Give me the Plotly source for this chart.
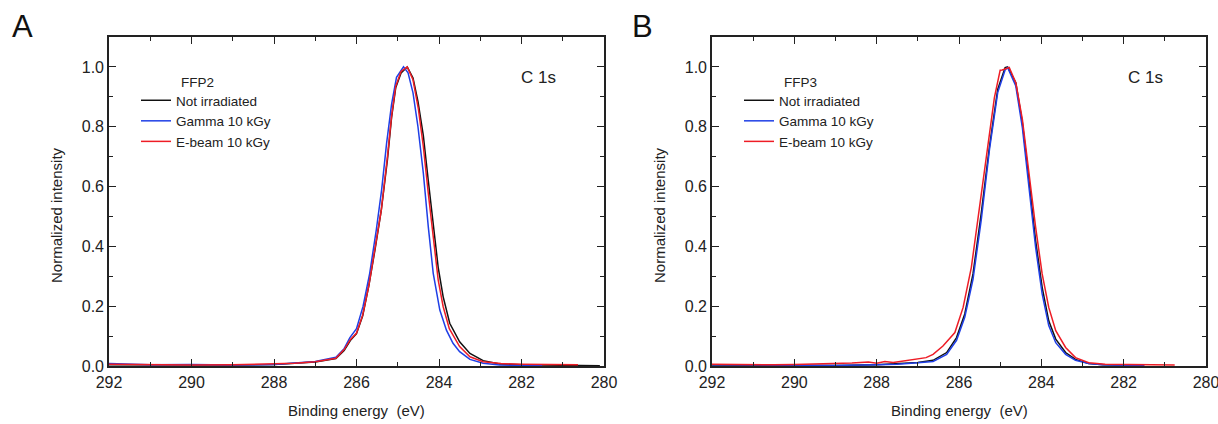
import plotly.graph_objects as go

# ---------------- Data ----------------
# Panel A : FFP2
a_black_e = [292.0, 291.0, 290.0, 289.0, 288.0, 287.5, 287.0, 286.5, 286.3, 286.15, 286.0, 285.85,
             285.7, 285.55, 285.4, 285.25, 285.15, 285.05, 284.92, 284.77, 284.63, 284.51, 284.38,
             284.26, 284.14, 284.02, 283.9, 283.74, 283.5, 283.25, 282.93, 282.53, 282.0, 281.5,
             281.0, 280.5, 280.1]
a_black_i = [0.004, 0.003, 0.002, 0.003, 0.005, 0.008, 0.013, 0.025, 0.052, 0.085, 0.108, 0.168,
             0.27, 0.39, 0.52, 0.69, 0.83, 0.93, 0.98, 1.0, 0.963, 0.885, 0.77, 0.62, 0.466, 0.33,
             0.232, 0.143, 0.081, 0.042, 0.018, 0.007, 0.004, 0.003, 0.002, 0.002, 0.001]

a_blue_e = [292.0, 291.0, 290.0, 289.0, 288.0, 287.5, 287.0, 286.5, 286.3, 286.16, 286.0, 285.84,
            285.68, 285.52, 285.39, 285.27, 285.15, 285.03, 284.86, 284.75, 284.63, 284.51, 284.38,
            284.26, 284.14, 283.98, 283.82, 283.66, 283.5, 283.25, 282.93, 282.53, 282.0, 281.5]
a_blue_i = [0.008, 0.004, 0.005, 0.003, 0.005, 0.009, 0.015, 0.029, 0.058, 0.095, 0.125, 0.2,
            0.31, 0.455, 0.59, 0.745, 0.875, 0.965, 1.0, 0.98, 0.913, 0.80, 0.645, 0.466, 0.31,
            0.187, 0.12, 0.076, 0.048, 0.022, 0.009, 0.003, 0.002, 0.002]

a_red_e = [292.0, 291.0, 290.0, 289.0, 288.0, 287.5, 287.0, 286.5, 286.3, 286.15, 286.0, 285.85,
           285.7, 285.55, 285.4, 285.25, 285.15, 285.05, 284.92, 284.77, 284.63, 284.5, 284.38,
           284.26, 284.14, 284.02, 283.9, 283.75, 283.5, 283.25, 282.93, 282.5, 282.0, 281.5,
           281.0, 280.63]
a_red_i = [0.006, 0.004, 0.003, 0.004, 0.006, 0.009, 0.014, 0.026, 0.055, 0.088, 0.11, 0.17,
           0.27, 0.39, 0.52, 0.70, 0.835, 0.935, 0.985, 1.0, 0.957, 0.86, 0.734, 0.578, 0.422,
           0.288, 0.199, 0.125, 0.065, 0.031, 0.0145, 0.008, 0.006, 0.005, 0.005, 0.004]

# Panel B : FFP3
b_black_e = [292.0, 291.0, 290.0, 289.0, 288.0, 287.5, 287.0, 286.63, 286.3, 286.06, 285.86, 285.66,
             285.46, 285.26, 285.06, 284.88, 284.82, 284.62, 284.46, 284.3, 284.14, 283.98, 283.82,
             283.65, 283.41, 283.17, 282.85, 282.5, 282.0, 281.5]
b_black_i = [0.003, 0.002, 0.002, 0.002, 0.004, 0.007, 0.012, 0.019, 0.045, 0.095, 0.174, 0.308,
             0.51, 0.734, 0.925, 0.998, 1.0, 0.947, 0.813, 0.622, 0.42, 0.263, 0.151, 0.09, 0.045,
             0.022, 0.008, 0.004, 0.002, 0.002]

b_blue_e = [292.0, 291.0, 290.0, 289.0, 288.0, 287.5, 287.0, 286.63, 286.3, 286.06, 285.86, 285.66,
            285.46, 285.26, 285.06, 284.88, 284.82, 284.62, 284.46, 284.3, 284.14, 283.98, 283.82,
            283.65, 283.41, 283.17, 282.85, 282.5, 282.0, 281.5]
b_blue_i = [0.004, 0.003, 0.002, 0.002, 0.004, 0.006, 0.011, 0.015, 0.039, 0.086, 0.163, 0.29,
            0.488, 0.723, 0.914, 0.99, 0.998, 0.936, 0.796, 0.6, 0.398, 0.241, 0.135, 0.078, 0.039,
            0.019, 0.008, 0.004, 0.002, 0.001]

b_red_e = [292.0, 291.5, 291.0, 290.5, 290.0, 289.5, 289.0, 288.6, 288.2, 288.0, 287.8, 287.6,
           287.43, 287.2, 287.03, 286.8, 286.63, 286.39, 286.1, 285.9, 285.7, 285.5, 285.26,
           285.14, 285.0, 284.95, 284.78, 284.62, 284.46, 284.3, 284.14, 283.98, 283.82, 283.65,
           283.41, 283.17, 282.85, 282.45, 282.0, 281.5, 281.0, 280.76]
b_red_i = [0.006, 0.005, 0.005, 0.004, 0.005, 0.006, 0.008, 0.01, 0.013, 0.009, 0.015, 0.012,
           0.015, 0.019, 0.022, 0.028, 0.039, 0.067, 0.112, 0.196, 0.33, 0.533, 0.79, 0.897,
           0.989, 0.99, 0.998, 0.947, 0.824, 0.645, 0.465, 0.308, 0.196, 0.118, 0.062, 0.028,
           0.011, 0.006, 0.005, 0.004, 0.003, 0.003]

series_names = ["Not irradiated", "Gamma 10 kGy", "E-beam 10 kGy"]
panel_titles = ["FFP2", "FFP3"]
panel_letters = ["A", "B"]
peak_label = "C 1s"
x_title = "Binding energy  (eV)"
y_title = "Normalized intensity"

colors = ["#111111", "#1f3fe6", "#ee1c25"]
W, H = 1218, 424

panels = [
    [(a_black_e, a_black_i), (a_blue_e, a_blue_i), (a_red_e, a_red_i)],
    [(b_black_e, b_black_i), (b_blue_e, b_blue_i), (b_red_e, b_red_i)],
]

fig = go.Figure()
for p, data in enumerate(panels):
    xa = "x" if p == 0 else "x2"
    ya = "y" if p == 0 else "y2"
    lg = "legend" if p == 0 else "legend2"
    for s, (e, i) in enumerate(data):
        fig.add_trace(go.Scatter(x=e, y=i, mode="lines", name=series_names[s],
                                 line=dict(color=colors[s], width=1.5),
                                 xaxis=xa, yaxis=ya, legend=lg))

# pixel helpers
def px(xp):
    return xp / W

def py(yp):
    return (H - yp) / H

plot_left = [109, 712]
plot_right = [604, 1206]
plot_top, plot_bottom = 37, 366

font = "Liberation Sans, Arial, sans-serif"

axis_common = dict(showline=True, linecolor="#222222", linewidth=1.6, mirror="ticks",
                   ticks="inside", ticklen=7, tickwidth=1.4, tickcolor="#222222",
                   showgrid=False, zeroline=False, automargin=False,
                   ticklabeloverflow="allow",
                   tickfont=dict(family=font, size=16, color="#222222"))

layout = dict(template="none", width=W, height=H, autosize=False,
              margin=dict(l=0, r=0, t=0, b=0, pad=0),
              paper_bgcolor="white", plot_bgcolor="white", showlegend=True)

for p in range(2):
    sx = "" if p == 0 else "2"
    layout["xaxis" + sx] = dict(axis_common, range=[292, 280], dtick=2, tick0=280,
                                domain=[px(plot_left[p]), px(plot_right[p])],
                                anchor="y" + sx, ticklabelstandoff=1,
                                minor=dict(dtick=1, ticks="inside", ticklen=4, tickwidth=1.2,
                                           tickcolor="#222222", showgrid=False))
    layout["yaxis" + sx] = dict(axis_common, range=[0, 1.1], dtick=0.2, tick0=0, tickformat=".1f",
                                domain=[py(plot_bottom), py(plot_top)],
                                anchor="x" + sx, ticklabelstandoff=0,
                                minor=dict(dtick=0.1, ticks="inside", ticklen=4, tickwidth=1.2,
                                           tickcolor="#222222", showgrid=False))
    leg = dict(x=px(plot_left[p] + 27), y=py(85), xanchor="left", yanchor="top",
               bgcolor="rgba(0,0,0,0)", borderwidth=0, tracegroupgap=0,
               font=dict(family=font, size=13.5, color="#222222"),
               itemwidth=30)
    layout["legend" if p == 0 else "legend2"] = leg

fig.update_layout(**layout)

for p in range(2):
    cx = (plot_left[p] + plot_right[p]) / 2
    fig.add_annotation(text=x_title, x=px(cx), y=py(410), xref="paper", yref="paper",
                       xanchor="center", yanchor="middle", showarrow=False,
                       font=dict(family=font, size=15, color="#222222"))
    fig.add_annotation(text=y_title, x=px(plot_left[p] - 53), y=py(215), xref="paper", yref="paper",
                       xanchor="center", yanchor="middle", showarrow=False, textangle=-90,
                       font=dict(family=font, size=15, color="#222222"))
    fig.add_annotation(text=panel_letters[p], x=px([22, 642][p]), y=py(27), xref="paper", yref="paper",
                       xanchor="center", yanchor="middle", showarrow=False,
                       font=dict(family=font, size=31, color="#111111"))
    fig.add_annotation(text=panel_titles[p], x=px(plot_left[p] + 70), y=py(82), xref="paper",
                       yref="paper", xanchor="left", yanchor="middle", showarrow=False,
                       font=dict(family=font, size=13.5, color="#222222"))
    fig.add_annotation(text=peak_label, x=px([538, 1145][p]), y=py(77), xref="paper", yref="paper",
                       xanchor="center", yanchor="middle", showarrow=False,
                       font=dict(family=font, size=17, color="#222222"))

fig.write_html("out.html", config={"displayModeBar": False},
               post_script="document.body.style.margin='0';")
